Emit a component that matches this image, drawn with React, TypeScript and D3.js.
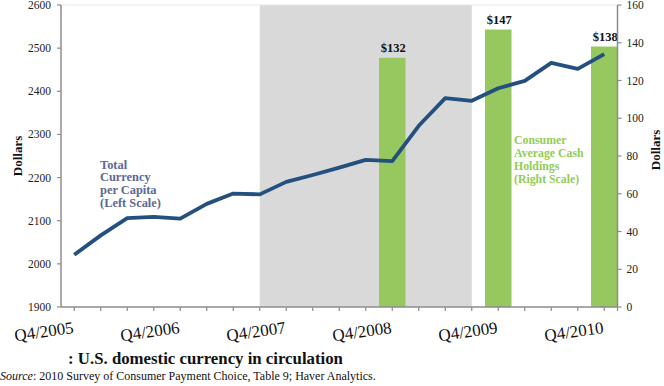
import React from "react";
import * as d3 from "d3";

const quarters = [
  "Q4/2005", "Q1/2006", "Q2/2006", "Q3/2006", "Q4/2006",
  "Q1/2007", "Q2/2007", "Q3/2007", "Q4/2007",
  "Q1/2008", "Q2/2008", "Q3/2008", "Q4/2008",
  "Q1/2009", "Q2/2009", "Q3/2009", "Q4/2009",
  "Q1/2010", "Q2/2010", "Q3/2010", "Q4/2010",
];
const currencyPerCapita = [
  2021, 2066, 2106, 2109, 2105, 2139, 2163, 2161, 2190, 2206, 2223,
  2241, 2238, 2320, 2384, 2378, 2407, 2424, 2466, 2452, 2486,
];
const cashQuarters = ["Q4/2008", "Q4/2009", "Q4/2010"];
const cashHoldings = [132, 147, 138];
const labelQuarters = ["Q4/2005", "Q4/2006", "Q4/2007", "Q4/2008", "Q4/2009", "Q4/2010"];
const recession = ["Q3/2007", "Q3/2009"];
const leftTicks = [1900, 2000, 2100, 2200, 2300, 2400, 2500, 2600];
const rightTicks = [0, 20, 40, 60, 80, 100, 120, 140, 160];

const L = 61, R = 617.5, T = 5, B = 307;
const serif = "'Liberation Serif', 'DejaVu Serif', serif";
const lineColor = "#23507f";
const green = "#96c85f";
const axisColor = "#8c8c8c";

export default function App() {
  const x = d3.scaleBand<string>().domain(quarters).range([L, R]).padding(0);
  const bw = x.bandwidth();
  const cx = (q: string) => (x(q) as number) + bw / 2;
  const yL = d3.scaleLinear().domain([1900, 2600]).range([B, T]);
  const yR = d3.scaleLinear().domain([0, 160]).range([B, T]);
  const line = d3
    .line<number>()
    .x((_, i) => cx(quarters[i]))
    .y((d) => yL(d))
    .curve(d3.curveLinear);

  const annBlue = ["Total", "Currency", "per Capita", "(Left Scale)"];
  const annGreen = ["Consumer", "Average Cash", "Holdings", "(Right Scale)"];

  return (
    <svg
      width={664}
      height={386}
      style={{ position: "absolute", left: 0, top: 0, background: "#fff" }}
      fontFamily={serif}
    >
      {/* recession shading */}
      <rect
        x={cx(recession[0])}
        y={T}
        width={cx(recession[1]) - cx(recession[0])}
        height={B - T}
        fill="#d9d9d9"
      />
      {/* top border */}
      <line x1={L} x2={R} y1={T} y2={T} stroke="#e6e6e6" strokeWidth={1} />
      {/* bars */}
      {cashQuarters.map((q, i) => (
        <g key={q}>
          <rect
            x={x(q) as number}
            y={yR(cashHoldings[i])}
            width={bw}
            height={B - yR(cashHoldings[i])}
            fill={green}
          />
          <text
            x={cx(q) + 1}
            y={yR(cashHoldings[i]) - 6}
            textAnchor="middle"
            fontSize={12.5}
            fontWeight="bold"
            fill="#111"
          >
            {"$" + cashHoldings[i]}
          </text>
        </g>
      ))}
      {/* line */}
      <path
        d={line(currencyPerCapita) || ""}
        fill="none"
        stroke={lineColor}
        strokeWidth={3.8}
        strokeLinejoin="round"
      />
      {/* axes */}
      <line x1={L} x2={L} y1={T} y2={B} stroke={axisColor} strokeWidth={1.5} />
      <line x1={R} x2={R} y1={T} y2={B} stroke={axisColor} strokeWidth={1.5} />
      <line x1={L} x2={R} y1={B} y2={B} stroke={axisColor} strokeWidth={1.5} />
      {leftTicks.map((t) => (
        <g key={"l" + t}>
          <line x1={L - 4} x2={L} y1={yL(t)} y2={yL(t)} stroke={axisColor} strokeWidth={1.2} />
          <text x={L - 10} y={yL(t)} dy="0.35em" textAnchor="end" fontSize={11.5} fill="#222">
            {t}
          </text>
        </g>
      ))}
      {rightTicks.map((t) => (
        <g key={"r" + t}>
          <line x1={R} x2={R + 4} y1={yR(t)} y2={yR(t)} stroke={axisColor} strokeWidth={1.2} />
          <text x={R + 9} y={yR(t)} dy="0.35em" textAnchor="start" fontSize={11.5} fill="#222">
            {t}
          </text>
        </g>
      ))}
      {quarters.map((q) => (
        <line key={"t" + q} x1={cx(q)} x2={cx(q)} y1={B} y2={B + 4} stroke={axisColor} strokeWidth={1.2} />
      ))}
      <line x1={R} x2={R} y1={B} y2={B + 4} stroke={axisColor} strokeWidth={1.2} />
      {labelQuarters.map((q) => (
        <text
          key={"x" + q}
          transform={`translate(${cx(q)},${B + 26}) rotate(-8)`}
          textAnchor="end"
          fontSize={17}
          fill="#111"
        >
          {q}
        </text>
      ))}
      {/* axis titles */}
      <text
        transform={`translate(22,156) rotate(-90)`}
        textAnchor="middle"
        fontSize={13}
        fontWeight="bold"
        fill="#111"
      >
        Dollars
      </text>
      <text
        transform={`translate(660,150) rotate(-90)`}
        textAnchor="middle"
        fontSize={13}
        fontWeight="bold"
        fill="#111"
      >
        Dollars
      </text>
      {/* annotations */}
      {annBlue.map((s, i) => (
        <text key={"b" + s} x={100} y={168.5 + i * 12.9} fontSize={12.4} fontWeight="bold" fill="#5c6896">
          {s}
        </text>
      ))}
      {annGreen.map((s, i) => (
        <text key={"g" + s} x={514} y={144 + i * 13} fontSize={11.8} fontWeight="bold" fill="#92cd55">
          {s}
        </text>
      ))}
      {/* caption */}
      <text x={205.5} y={364} textAnchor="middle" fontSize={16.8} fontWeight="bold" fill="#111">
        : U.S. domestic currency in circulation
      </text>
      <text x={0} y={380} fontSize={12} fill="#111">
        <tspan fontStyle="italic">Source</tspan>
        <tspan>: 2010 Survey of Consumer Payment Choice, Table 9; Haver Analytics.</tspan>
      </text>
    </svg>
  );
}
